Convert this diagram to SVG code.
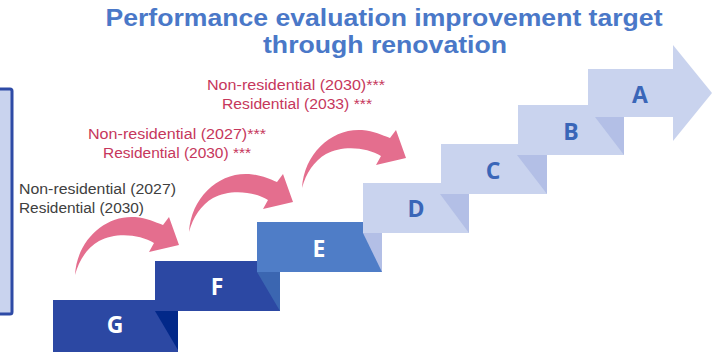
<svg xmlns="http://www.w3.org/2000/svg" width="712" height="352" viewBox="0 0 712 352">
  <style>
    .title { font-family: "Liberation Sans", Arial, sans-serif; font-weight: bold; font-size: 24px; fill: #4a78c8; text-anchor: middle; }
    .note { font-family: "Liberation Sans", Arial, sans-serif; font-size: 15.5px; }
    .red { fill: #c6375c; }
    .grey { fill: #404040; }
    .label { font-family: "Open Sans", "Noto Sans", "Liberation Sans", sans-serif; font-weight: bold; font-size: 23px; text-anchor: middle; }
    .dark { fill: #2c48a3; }
    .mid { fill: #4f7dc7; }
    .light { fill: #c9d3ee; }
    .fold-light { fill: #b3bfe6; }
    .on-dark { fill: #ffffff; }
    .on-light { fill: #3a66b8; }
    .jump { fill: #e46e8e; }
  </style>
  <defs>
    <!-- curved jump arrow, tail at origin -->
    <path id="jump" d="M0,0 C2,-35 30,-60 60,-58 C72,-57 80,-53 88,-50 L94,-58 L104,-30 L74,-23 L79,-32 C65,-41 40,-43 24,-34 C12,-27 4,-15 0,0 Z"/>
  </defs>

  <!-- side panel -->
  <g id="side-panel">
    <rect x="-10" y="89" width="22" height="225" rx="2" fill="#c9d3ee" stroke="#2e4ba6" stroke-width="3"/>
  </g>

  <!-- heading -->
  <g id="heading">
    <text class="title" x="384" y="26" textLength="557" lengthAdjust="spacingAndGlyphs">Performance evaluation improvement target</text>
    <text class="title" x="385" y="53" textLength="244" lengthAdjust="spacingAndGlyphs">through renovation</text>
  </g>

  <!-- target notes -->
  <g id="note-current">
    <text class="note grey" x="19" y="194" textLength="157" lengthAdjust="spacingAndGlyphs">Non-residential (2027)</text>
    <text class="note grey" x="19" y="213" textLength="125" lengthAdjust="spacingAndGlyphs">Residential (2030)</text>
  </g>
  <g id="note-step2">
    <text class="note red" x="177" y="139" text-anchor="middle" textLength="178" lengthAdjust="spacingAndGlyphs">Non-residential (2027)***</text>
    <text class="note red" x="177" y="158" text-anchor="middle" textLength="148" lengthAdjust="spacingAndGlyphs">Residential (2030) ***</text>
  </g>
  <g id="note-step3">
    <text class="note red" x="296" y="90" text-anchor="middle" textLength="178" lengthAdjust="spacingAndGlyphs">Non-residential (2030)***</text>
    <text class="note red" x="297" y="109" text-anchor="middle" textLength="150" lengthAdjust="spacingAndGlyphs">Residential (2033) ***</text>
  </g>

  <!-- staircase of classes, bottom to top -->
  <g id="step-G">
    <rect class="dark" x="53" y="300" width="125" height="52"/>
    <polygon points="155,311 178,311 178,350" fill="#022889"/>
    <text class="label on-dark" x="115" y="333">G</text>
  </g>
  <g id="step-F">
    <rect class="dark" x="155" y="261" width="125" height="50"/>
    <polygon points="257,272 280,272 280,311" fill="#3b66b1"/>
    <text class="label on-dark" x="217" y="295">F</text>
  </g>
  <g id="step-E">
    <rect class="mid" x="257" y="222" width="125" height="50"/>
    <polygon class="fold-light" points="363,233 382,233 382,272"/>
    <text class="label on-dark" x="319" y="257">E</text>
  </g>
  <g id="step-D">
    <rect class="light" x="363" y="183" width="106" height="50"/>
    <polygon class="fold-light" points="440,194 469,194 469,233"/>
    <text class="label on-light" x="416" y="217">D</text>
  </g>
  <g id="step-C">
    <rect class="light" x="441" y="144" width="106" height="50"/>
    <polygon class="fold-light" points="517,155 547,155 547,194"/>
    <text class="label on-light" x="493" y="179">C</text>
  </g>
  <g id="step-B">
    <rect class="light" x="518" y="105" width="106" height="50"/>
    <polygon class="fold-light" points="595,117 624,117 624,155"/>
    <text class="label on-light" x="571" y="140">B</text>
  </g>
  <g id="step-A">
    <polygon class="light" points="588,69 673,69 673,45 712,93 673,141 673,117 588,117"/>
    <text class="label on-light" x="640" y="103">A</text>
  </g>

  <!-- connectors: jumps between classes -->
  <g id="connectors">
    <use href="#jump" class="jump" transform="translate(75,275)"/>
    <use href="#jump" class="jump" transform="translate(189,232)"/>
    <use href="#jump" class="jump" transform="translate(302,188)"/>
  </g>
</svg>
